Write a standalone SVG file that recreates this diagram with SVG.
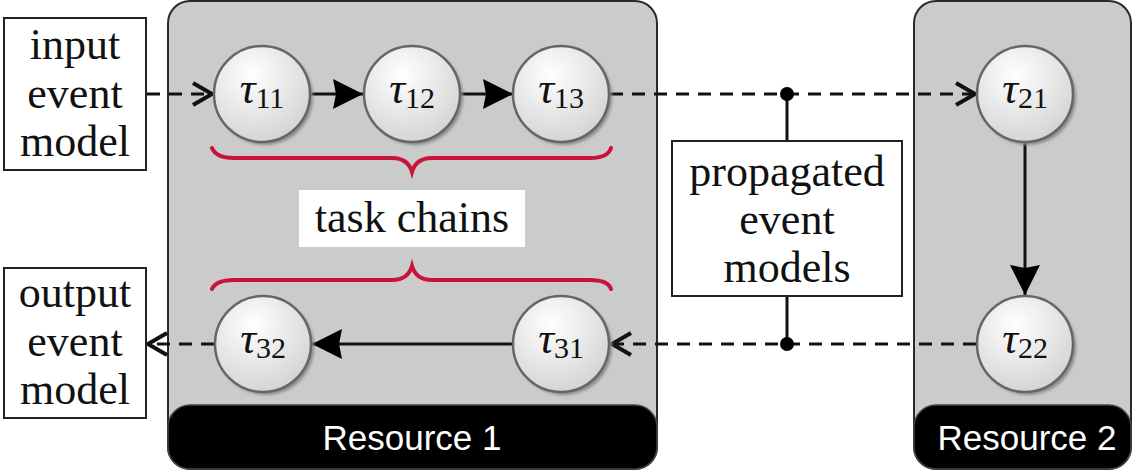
<svg xmlns="http://www.w3.org/2000/svg" width="1133" height="472" viewBox="0 0 1133 472">
<style>
.res{fill:#cbcbcb;stroke:#2a2a2a;stroke-width:2}
.bar{fill:#000;stroke:#444;stroke-width:1.5}
.rl{font-family:"Liberation Sans",Arial,sans-serif;font-size:35px;fill:#fff;text-anchor:middle}
.box{fill:#fff;stroke:#222;stroke-width:2}
.t{font-family:"Liberation Serif","Times New Roman",serif;font-size:44px;fill:#111;text-anchor:middle}
.tau{font-family:"Liberation Serif","Times New Roman",serif;font-size:44px;fill:#111;text-anchor:middle}
.circ{fill:url(#cg);stroke:#666;stroke-width:2.5}
.sh{fill:#8a8a8a;filter:url(#bl)}
.dash{fill:none;stroke:#111;stroke-width:3;stroke-dasharray:13 9}
.solid{fill:none;stroke:#111;stroke-width:3}
.brace{fill:none;stroke:#c8143c;stroke-width:4;stroke-linecap:round}
</style>
<defs>
<radialGradient id="cg" cx="0.4" cy="0.3" r="0.75">
<stop offset="0" stop-color="#ffffff"/>
<stop offset="1" stop-color="#d2d2d2"/>
</radialGradient>
<filter id="bl" x="-20%" y="-20%" width="140%" height="140%"><feGaussianBlur stdDeviation="1.5"/></filter>
<marker id="open" markerUnits="userSpaceOnUse" markerWidth="28" markerHeight="28" viewBox="0 0 28 28" refX="25" refY="14" orient="auto">
<path d="M5,3 L24,14 L5,25" fill="none" stroke="#111" stroke-width="4"/>
</marker>
<marker id="tri" markerUnits="userSpaceOnUse" markerWidth="32" markerHeight="34" viewBox="0 0 32 34" refX="31" refY="17" orient="auto">
<path d="M1,2 L31,17 L1,32 L4,17 Z" fill="#000"/>
</marker>
</defs>

<g id="resource1">
<rect class="res" x="168" y="1" width="489" height="468" rx="22"/>
<rect class="bar" x="168" y="405" width="489" height="64" rx="22"/>
<text class="rl" x="412" y="450">Resource 1</text>
</g>
<g id="resource2">
<rect class="res" x="914" y="1" width="217" height="468" rx="22"/>
<rect class="bar" x="914" y="405" width="217" height="64" rx="22"/>
<text class="rl" x="1027" y="450">Resource 2</text>
</g>

<g id="braces">
<path class="brace" d="M212,148 Q216,158 234,158 L392,158 Q408,158 412,172 Q416,158 432,158 L590,158 Q608,158 611,148"/>
<path class="brace" d="M212,289 Q216,280 234,280 L392,280 Q408,280 412,266 Q416,280 432,280 L590,280 Q608,280 611,289"/>
</g>

<g id="connectors">
<path class="dash" d="M147,94 L213,94" marker-end="url(#open)"/>
<path class="solid" d="M311,94 L363,94" marker-end="url(#tri)"/>
<path class="solid" d="M461,94 L513,94" marker-end="url(#tri)"/>
<path class="dash" d="M610,94 L976,94" marker-end="url(#open)"/>
<path class="solid" d="M1025,143 L1025,295" marker-end="url(#tri)"/>
<path class="dash" d="M976,344 L611,344" marker-end="url(#open)"/>
<path class="solid" d="M513,344 L312,344" marker-end="url(#tri)"/>
<path class="dash" d="M214,344 L147,344" marker-end="url(#open)"/>
<path class="solid" d="M787,94 L787,141 M787,296 L787,344" stroke-width="2"/>
<circle cx="787" cy="94" r="7" fill="#000"/>
<circle cx="787" cy="344" r="7" fill="#000"/>
</g>

<g id="input">
<rect class="box" x="4" y="18" width="142" height="152"/>
<text class="t" x="75" y="59">input</text>
<text class="t" x="75" y="108">event</text>
<text class="t" x="75" y="156">model</text>
</g>
<g id="output">
<rect class="box" x="4" y="268" width="142" height="150"/>
<text class="t" x="75" y="307">output</text>
<text class="t" x="75" y="356">event</text>
<text class="t" x="75" y="404">model</text>
</g>
<g id="propagated">
<rect class="box" x="672" y="141" width="230" height="155"/>
<text class="t" x="787" y="186">propagated</text>
<text class="t" x="787" y="234">event</text>
<text class="t" x="787" y="282">models</text>
</g>
<g id="taskchains">
<rect x="299" y="190" width="226" height="57" fill="#fff"/>
<text class="t" x="412" y="232">task chains</text>
</g>

<g id="tau11">
<circle class="sh" cx="265" cy="97" r="48"/>
<circle class="circ" cx="262" cy="94" r="48"/>
<text class="tau" x="262" y="103"><tspan font-style="italic">τ</tspan><tspan font-size="30" dy="5">11</tspan></text>
</g>
<g id="tau12">
<circle class="sh" cx="415" cy="97" r="48"/>
<circle class="circ" cx="412" cy="94" r="48"/>
<text class="tau" x="412" y="103"><tspan font-style="italic">τ</tspan><tspan font-size="30" dy="5">12</tspan></text>
</g>
<g id="tau13">
<circle class="sh" cx="564" cy="97" r="48"/>
<circle class="circ" cx="561" cy="94" r="48"/>
<text class="tau" x="561" y="103"><tspan font-style="italic">τ</tspan><tspan font-size="30" dy="5">13</tspan></text>
</g>
<g id="tau21">
<circle class="sh" cx="1028" cy="97" r="48"/>
<circle class="circ" cx="1025" cy="94" r="48"/>
<text class="tau" x="1025" y="103"><tspan font-style="italic">τ</tspan><tspan font-size="30" dy="5">21</tspan></text>
</g>
<g id="tau22">
<circle class="sh" cx="1028" cy="347" r="48"/>
<circle class="circ" cx="1025" cy="344" r="48"/>
<text class="tau" x="1025" y="353"><tspan font-style="italic">τ</tspan><tspan font-size="30" dy="5">22</tspan></text>
</g>
<g id="tau31">
<circle class="sh" cx="564" cy="347" r="48"/>
<circle class="circ" cx="561" cy="344" r="48"/>
<text class="tau" x="561" y="353"><tspan font-style="italic">τ</tspan><tspan font-size="30" dy="5">31</tspan></text>
</g>
<g id="tau32">
<circle class="sh" cx="266" cy="347" r="48"/>
<circle class="circ" cx="263" cy="344" r="48"/>
<text class="tau" x="263" y="353"><tspan font-style="italic">τ</tspan><tspan font-size="30" dy="5">32</tspan></text>
</g>
</svg>
